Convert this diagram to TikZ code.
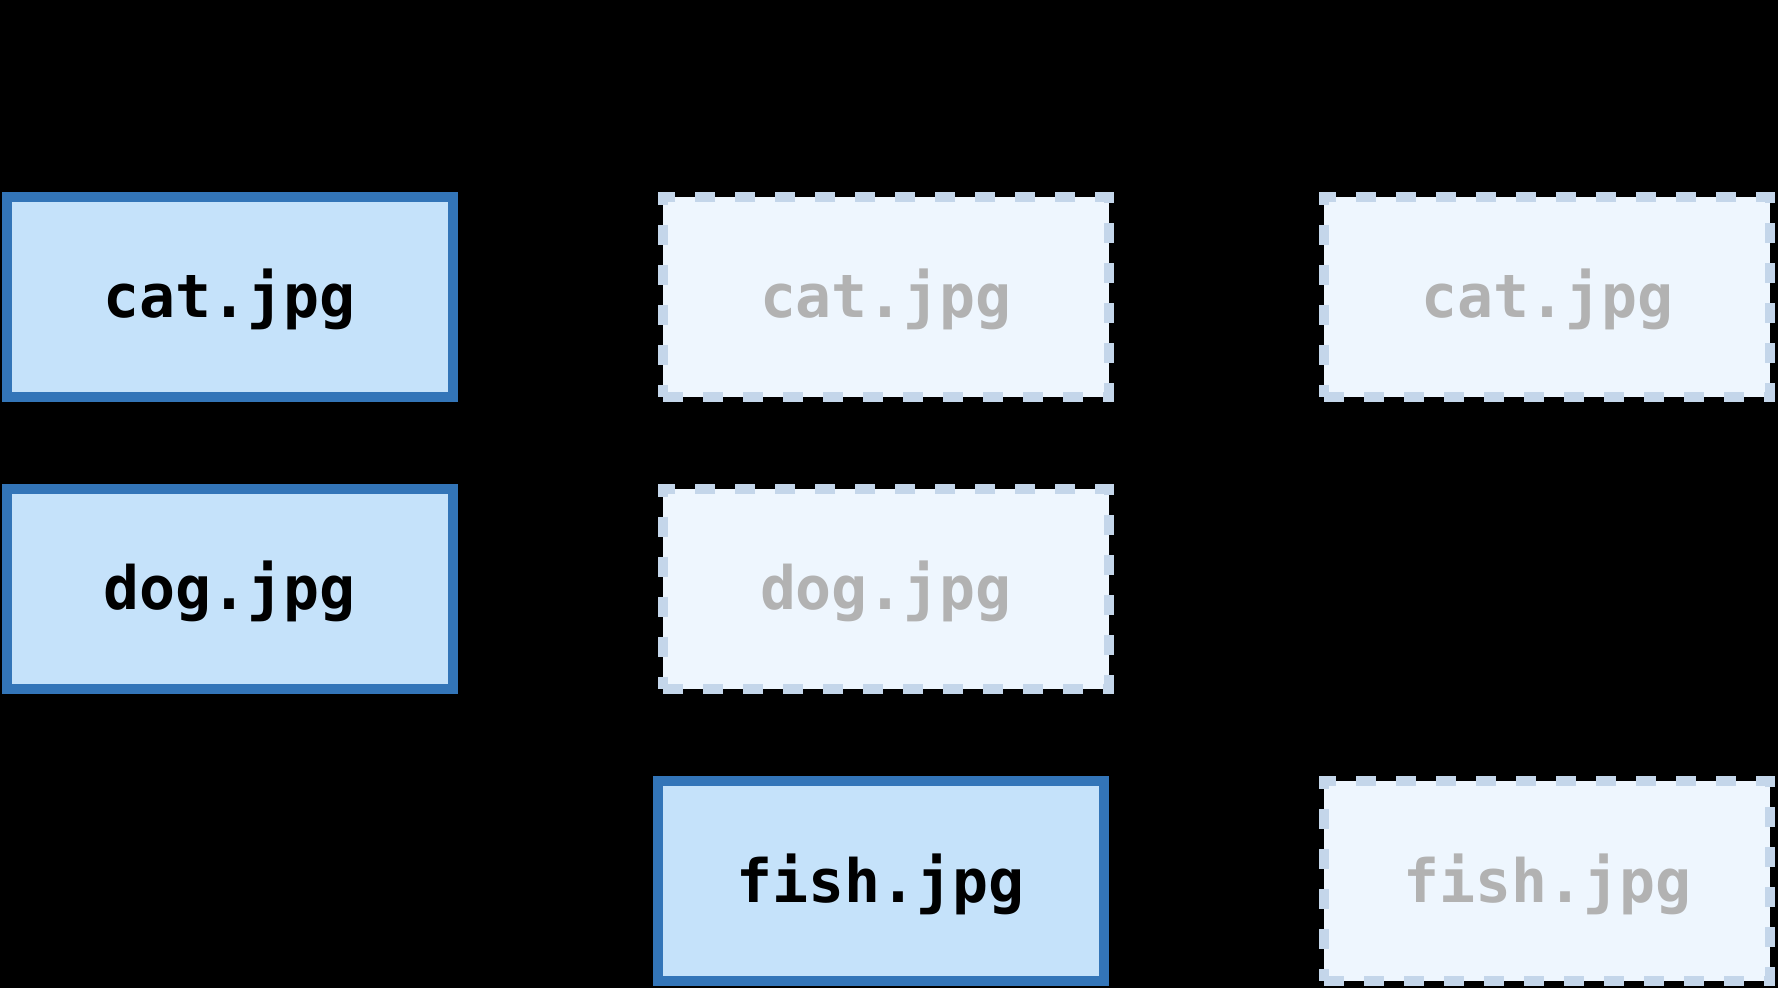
\documentclass[tikz,border=0pt]{standalone}
\usepackage{fontspec}
\setmonofont{DejaVu Sans Mono}
\definecolor{solidline}{RGB}{51,117,184}
\definecolor{solidfill}{RGB}{197,226,250}
\definecolor{ghostline}{RGB}{196,214,234}
\definecolor{ghostfill}{RGB}{238,246,254}
\definecolor{ghosttext}{RGB}{178,178,178}
\tikzset{
  filebox/.style={rectangle, minimum width=223pt, minimum height=100pt, inner sep=0pt,
    line width=5pt, text height=21pt, text depth=0pt,
    font=\ttfamily\bfseries\fontsize{29.9}{36}\selectfont},
  realfile/.style={filebox, draw=solidline, fill=solidfill, text=black},
  ghostfile/.style={filebox, draw=ghostline, fill=ghostfill, text=ghosttext,
    dash pattern=on 10pt off 10pt},
}
\begin{document}
\begin{tikzpicture}[x=0.5pt, y=-0.5pt]
\fill[black] (0,0) rectangle (1778,988);
\useasboundingbox (0,0) rectangle (1778,988);
\node[realfile] (cat1) at (229.5,297) {cat.jpg};
\node[realfile] (dog1) at (229.5,589) {dog.jpg};
\node[ghostfile] (cat2) at (886,297) {cat.jpg};
\node[ghostfile] (dog2) at (886,589) {dog.jpg};
\node[realfile] (fish2) at (881,881) {fish.jpg};
\node[ghostfile] (cat3) at (1547,297) {cat.jpg};
\node[ghostfile] (fish3) at (1547,881) {fish.jpg};
\end{tikzpicture}
\end{document}
